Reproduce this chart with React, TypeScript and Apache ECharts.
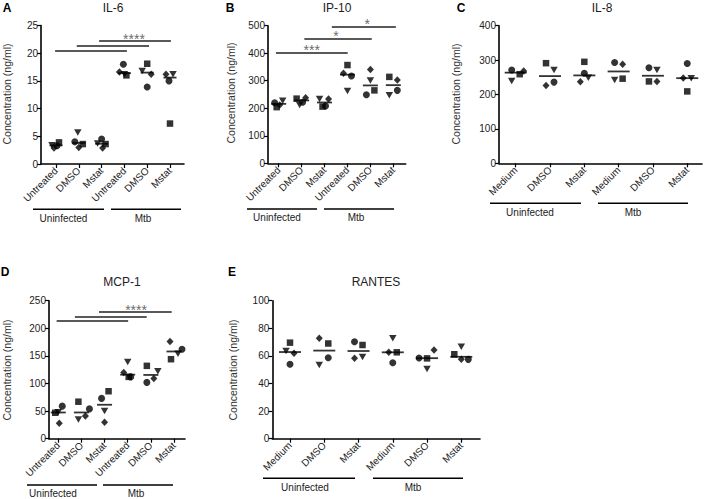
import React, { useEffect, useRef } from "react";
import * as echarts from "echarts";

// ---------- categories ----------
const CATS_TREAT = ["Untreated", "DMSO", "Mstat", "Untreated", "DMSO", "Mstat"];
const CATS_MEDIUM = ["Medium", "DMSO", "Mstat", "Medium", "DMSO", "Mstat"];
const GROUPS = ["Uninfected", "Mtb"];

// ---------- IL-6 (ng/ml) ----------
const IL6_CIRCLE = [3.3, 4.0, 4.5, 18.0, 13.9, 15.0];
const IL6_SQUARE = [3.9, 3.6, 3.6, 16.0, 18.1, 7.3];
const IL6_TRIANGLE = [3.4, 5.7, 3.7, 16.2, 16.8, 16.2];
const IL6_DIAMOND = [2.9, 3.0, 2.9, 16.6, 16.2, 16.2];
const IL6_SIG = [
  { from: -0.04, to: 3.11, y: 20.4 },
  { from: 0.91, to: 4.08, y: 21.4 },
  { from: 1.89, to: 5.04, y: 22.2 },
];
const IL6_STARS = [{ x: 3.42, y: 22.65, text: "****" }];

// ---------- IP-10 ----------
const IP10_CIRCLE = [220, 222, 208, 317, 249, 265];
const IP10_SQUARE = [204, 235, 206, 357, 265, 314];
const IP10_TRIANGLE = [227, 212, 234, 263, 301, 247];
const IP10_DIAMOND = [212, 238, 234, 327, 341, 303];
const IP10_SIG = [
  { from: -0.12, to: 3.01, y: 403 },
  { from: 1.12, to: 4.06, y: 452 },
  { from: 2.32, to: 5.11, y: 496 },
];
const IP10_STARS = [
  { x: 1.44, y: 413, text: "***" },
  { x: 2.5, y: 461, text: "*" },
  { x: 3.86, y: 505, text: "*" },
];

// ---------- IL-8 ----------
const IL8_CIRCLE = [271, 236, 262, 293, 278, 290];
const IL8_SQUARE = [259, 291, 295, 246, 238, 209];
const IL8_TRIANGLE = [239, 271, 249, 242, 271, 247];
const IL8_DIAMOND = [268, 226, 237, 288, 238, 248];

// ---------- MCP-1 ----------
const MCP1_CIRCLE = [59, 54, 73, 112, 102, 162];
const MCP1_SQUARE = [47, 67, 86, 112, 132, 144];
const MCP1_TRIANGLE = [48, 35, 50, 139, 122, 154];
const MCP1_DIAMOND = [28, 41, 30, 120, 109, 176];
const MCP1_SIG = [
  { from: -0.07, to: 3.02, y: 213 },
  { from: 0.72, to: 3.82, y: 221 },
  { from: 1.76, to: 4.9, y: 230 },
];
const MCP1_STARS = [{ x: 3.36, y: 233, text: "****" }];

// ---------- RANTES ----------
const RANTES_CIRCLE = [54, 58.7, 70.3, 55, 58.5, 57.5];
const RANTES_SQUARE = [69.6, 69, 67.9, 62.6, 58.2, 61.2];
const RANTES_TRIANGLE = [63.6, 53.4, 59.2, 72.7, 50.5, 66.7];
const RANTES_DIAMOND = [62, 72.7, 58.3, 62.6, 64.3, 57.5];

// ---------- layout / style ----------
const FONT = "'Liberation Sans', Arial, Helvetica, sans-serif";

const MARKERS = [
  { key: "circle", symbol: "circle", size: 7, rotate: 0 },
  { key: "square", symbol: "rect", size: 6.5, rotate: 0 },
  { key: "triangle", symbol: "triangle", size: [7.5, 6.5], rotate: 180 },
  { key: "diamond", symbol: "diamond", size: [7, 7.5], rotate: 0 },
];

type Panel = {
  letter: string;
  title: string;
  cats: string[];
  values: Record<string, number[]>;
  jitter: Record<string, number[]>;
  yMax: number;
  yInt: number;
  grid: { left: number; top: number; width: number; height: number };
  xMin: number;
  xMax: number;
  medianW: number;
  sig: { from: number; to: number; y: number }[];
  stars: { x: number; y: number; text: string }[];
  letterPos: [number, number];
  titlePos: [number, number];
  yNamePos: [number, number];
  groupLineY: number;
  groupLines: [number, number][];
  groupTextY: number;
  groupTextX: number[];
};

const PANELS: Panel[] = [
  {
    letter: "A",
    title: "IL-6",
    cats: CATS_TREAT,
    values: { circle: IL6_CIRCLE, square: IL6_SQUARE, triangle: IL6_TRIANGLE, diamond: IL6_DIAMOND },
    jitter: {
      circle: [1, -4, 0, -1, 0, -1],
      square: [3, 4, 4, 2, 0, 0],
      triangle: [-4, -1, -4, 0, -5, 3],
      diamond: [-2, 0, 1, -5, 4, -4],
    },
    yMax: 25,
    yInt: 5,
    grid: { left: 41, top: 25.5, width: 143, height: 138.5 },
    xMin: -0.658,
    xMax: 5.614,
    medianW: 13,
    sig: IL6_SIG,
    stars: IL6_STARS,
    letterPos: [7, 8],
    titlePos: [113, 8],
    yNamePos: [7, 94],
    groupLineY: 209.3,
    groupLines: [[33, 104], [111, 181]],
    groupTextY: 218.5,
    groupTextX: [63.5, 143],
  },
  {
    letter: "B",
    title: "IP-10",
    cats: CATS_TREAT,
    values: { circle: IP10_CIRCLE, square: IP10_SQUARE, triangle: IP10_TRIANGLE, diamond: IP10_DIAMOND },
    jitter: {
      circle: [-4, 1, 1, 4, -4, 4],
      square: [-2, -5, -2, 0, 4, -4],
      triangle: [4, -2, -5, 0, 0, -4],
      diamond: [1, 4, 4, -4, 0, 4],
    },
    yMax: 500,
    yInt: 100,
    grid: { left: 268, top: 25.7, width: 137.7, height: 137.6 },
    xMin: -0.466,
    xMax: 5.54,
    medianW: 15,
    sig: IP10_SIG,
    stars: IP10_STARS,
    letterPos: [230, 8],
    titlePos: [337, 8],
    yNamePos: [231, 93],
    groupLineY: 209,
    groupLines: [[247, 317], [324, 394]],
    groupTextY: 217.5,
    groupTextX: [277, 356],
  },
  {
    letter: "C",
    title: "IL-8",
    cats: CATS_MEDIUM,
    values: { circle: IL8_CIRCLE, square: IL8_SQUARE, triangle: IL8_TRIANGLE, diamond: IL8_DIAMOND },
    jitter: {
      circle: [-4, 4, 0, -4, -4, 0],
      square: [4, -4, 0, 4, -4, 0],
      triangle: [-4, 4, 4, -4, 4, 4],
      diamond: [8, -4, -4, 4, 4, -4],
    },
    yMax: 400,
    yInt: 100,
    grid: { left: 499, top: 25.7, width: 203, height: 137.6 },
    xMin: -0.487,
    xMax: 5.43,
    medianW: 22,
    sig: [],
    stars: [],
    letterPos: [461, 8],
    titlePos: [602, 8],
    yNamePos: [456, 94],
    groupLineY: 203.3,
    groupLines: [[490, 581], [598, 688]],
    groupTextY: 212,
    groupTextX: [530, 633],
  },
  {
    letter: "D",
    title: "MCP-1",
    cats: CATS_TREAT,
    values: { circle: MCP1_CIRCLE, square: MCP1_SQUARE, triangle: MCP1_TRIANGLE, diamond: MCP1_DIAMOND },
    jitter: {
      circle: [4, 8, -3, 3, -4, 8],
      square: [-3, -3, 4, 1, -4, -3],
      triangle: [0, -3, 0, 0, 7, 4],
      diamond: [1, 4, 0, -4, 3, -4],
    },
    yMax: 250,
    yInt: 50,
    grid: { left: 49, top: 300.7, width: 136, height: 138 },
    xMin: -0.4,
    xMax: 5.475,
    medianW: 15,
    sig: MCP1_SIG,
    stars: MCP1_STARS,
    letterPos: [5, 272],
    titlePos: [122, 282],
    yNamePos: [7, 370],
    groupLineY: 485,
    groupLines: [[27, 97], [103, 173]],
    groupTextY: 493.5,
    groupTextX: [53, 136],
  },
  {
    letter: "E",
    title: "RANTES",
    cats: CATS_MEDIUM,
    values: { circle: RANTES_CIRCLE, square: RANTES_SQUARE, triangle: RANTES_TRIANGLE, diamond: RANTES_DIAMOND },
    jitter: {
      circle: [0, 4, -4, 0, -8, 7],
      square: [0, 4, 4, 4, 0, -7],
      triangle: [-4, -5, 4, 0, 0, 0],
      diamond: [4, -5, -4, -4, 7, 0],
    },
    yMax: 100,
    yInt: 20,
    grid: { left: 272.3, top: 300.7, width: 207.7, height: 138 },
    xMin: -0.517,
    xMax: 5.546,
    medianW: 22,
    sig: [],
    stars: [],
    letterPos: [232, 272],
    titlePos: [376, 282],
    yNamePos: [233, 370],
    groupLineY: 478.3,
    groupLines: [[263, 355], [373, 463]],
    groupTextY: 487,
    groupTextX: [305, 413],
  },
];

function median(a: number[]) {
  const s = [...a].sort((x, y) => x - y);
  const n = s.length;
  return n % 2 ? s[(n - 1) / 2] : (s[n / 2 - 1] + s[n / 2]) / 2;
}

function buildOption() {
  const grid: any[] = [];
  const xAxis: any[] = [];
  const yAxis: any[] = [];
  const series: any[] = [];
  const graphic: any[] = [];
  const ticks = [0, 1, 2, 3, 4, 5];

  PANELS.forEach((p, i) => {
    grid.push({ ...p.grid, containLabel: false });
    xAxis.push({
      type: "value",
      gridIndex: i,
      min: p.xMin,
      max: p.xMax,
      splitLine: { show: false },
      axisLine: { show: true, onZero: false, lineStyle: { color: "#000", width: 1.6 } },
      axisTick: { show: true, customValues: ticks, length: 4, lineStyle: { color: "#000", width: 1.2 } },
      axisLabel: {
        show: true,
        customValues: ticks,
        formatter: (v: number) => p.cats[Math.round(v)],
        rotate: 45,
        margin: 5,
        fontSize: 10,
        color: "#222",
        fontFamily: FONT,
      },
    });
    yAxis.push({
      type: "value",
      gridIndex: i,
      min: 0,
      max: p.yMax,
      interval: p.yInt,
      splitLine: { show: false },
      axisLine: { show: true, onZero: false, lineStyle: { color: "#000", width: 1.6 } },
      axisTick: { show: true, length: 4, lineStyle: { color: "#000", width: 1.2 } },
      axisLabel: { fontSize: 10, color: "#222", margin: 3, fontFamily: FONT },
    });

    MARKERS.forEach((m) => {
      series.push({
        type: "scatter",
        xAxisIndex: i,
        yAxisIndex: i,
        symbol: m.symbol,
        symbolSize: m.size,
        symbolRotate: m.rotate,
        itemStyle: { color: "#000" },
        silent: true,
        clip: false,
        data: p.values[m.key].map((v, g) => ({
          value: [g, v],
          symbolOffset: [p.jitter[m.key][g], 0],
        })),
      });
    });

    // median line per group
    series.push({
      type: "scatter",
      xAxisIndex: i,
      yAxisIndex: i,
      symbol: "rect",
      symbolSize: [p.medianW, 1.8],
      itemStyle: { color: "#000" },
      silent: true,
      data: ticks.map((g) => [
        g,
        median(MARKERS.map((m) => p.values[m.key][g])),
      ]),
    });

    if (p.sig.length) {
      series.push({
        type: "lines",
        coordinateSystem: "cartesian2d",
        xAxisIndex: i,
        yAxisIndex: i,
        symbol: "none",
        silent: true,
        lineStyle: { color: "#222", width: 1.5, opacity: 1 },
        data: p.sig.map((s) => ({ coords: [[s.from, s.y], [s.to, s.y]] })),
      });
      series.push({
        type: "scatter",
        xAxisIndex: i,
        yAxisIndex: i,
        symbol: "circle",
        symbolSize: 1,
        clip: false,
        silent: true,
        itemStyle: { color: "rgba(0,0,0,0)" },
        label: {
          show: true,
          position: "inside",
          formatter: (d: any) => d.name,
          fontSize: 14,
          color: "#444",
          fontFamily: FONT,
        },
        data: p.stars.map((s) => ({ name: s.text, value: [s.x, s.y] })),
      });
    }

    // annotations
    graphic.push({
      type: "text",
      x: p.letterPos[0],
      y: p.letterPos[1],
      style: { text: p.letter, font: `bold 12px ${FONT}`, fill: "#000", textAlign: "center", textVerticalAlign: "middle" },
    });
    graphic.push({
      type: "text",
      x: p.titlePos[0],
      y: p.titlePos[1],
      style: { text: p.title, font: `12px ${FONT}`, fill: "#222", textAlign: "center", textVerticalAlign: "middle" },
    });
    graphic.push({
      type: "text",
      x: p.yNamePos[0],
      y: p.yNamePos[1],
      rotation: Math.PI / 2,
      style: { text: "Concentration (ng/ml)", font: `10.5px ${FONT}`, fill: "#333", textAlign: "center", textVerticalAlign: "middle" },
    });
    p.groupLines.forEach((gl, k) => {
      graphic.push({
        type: "line",
        shape: { x1: gl[0], y1: p.groupLineY, x2: gl[1], y2: p.groupLineY },
        style: { stroke: "#000", lineWidth: 1.5 },
      });
      graphic.push({
        type: "text",
        x: p.groupTextX[k],
        y: p.groupTextY,
        style: { text: GROUPS[k], font: `10px ${FONT}`, fill: "#222", textAlign: "center", textVerticalAlign: "middle" },
      });
    });
  });

  return {
    animation: false,
    backgroundColor: "#fff",
    grid,
    xAxis,
    yAxis,
    series,
    graphic,
  };
}

export default function App() {
  const ref = useRef<HTMLDivElement>(null);
  useEffect(() => {
    if (!ref.current) return;
    const chart = echarts.init(ref.current, undefined, { renderer: "svg" });
    chart.setOption(buildOption() as any);
    return () => chart.dispose();
  }, []);
  return (
    <div
      ref={ref}
      style={{ position: "absolute", left: 0, top: 0, width: 708, height: 499, background: "#fff" }}
    />
  );
}
